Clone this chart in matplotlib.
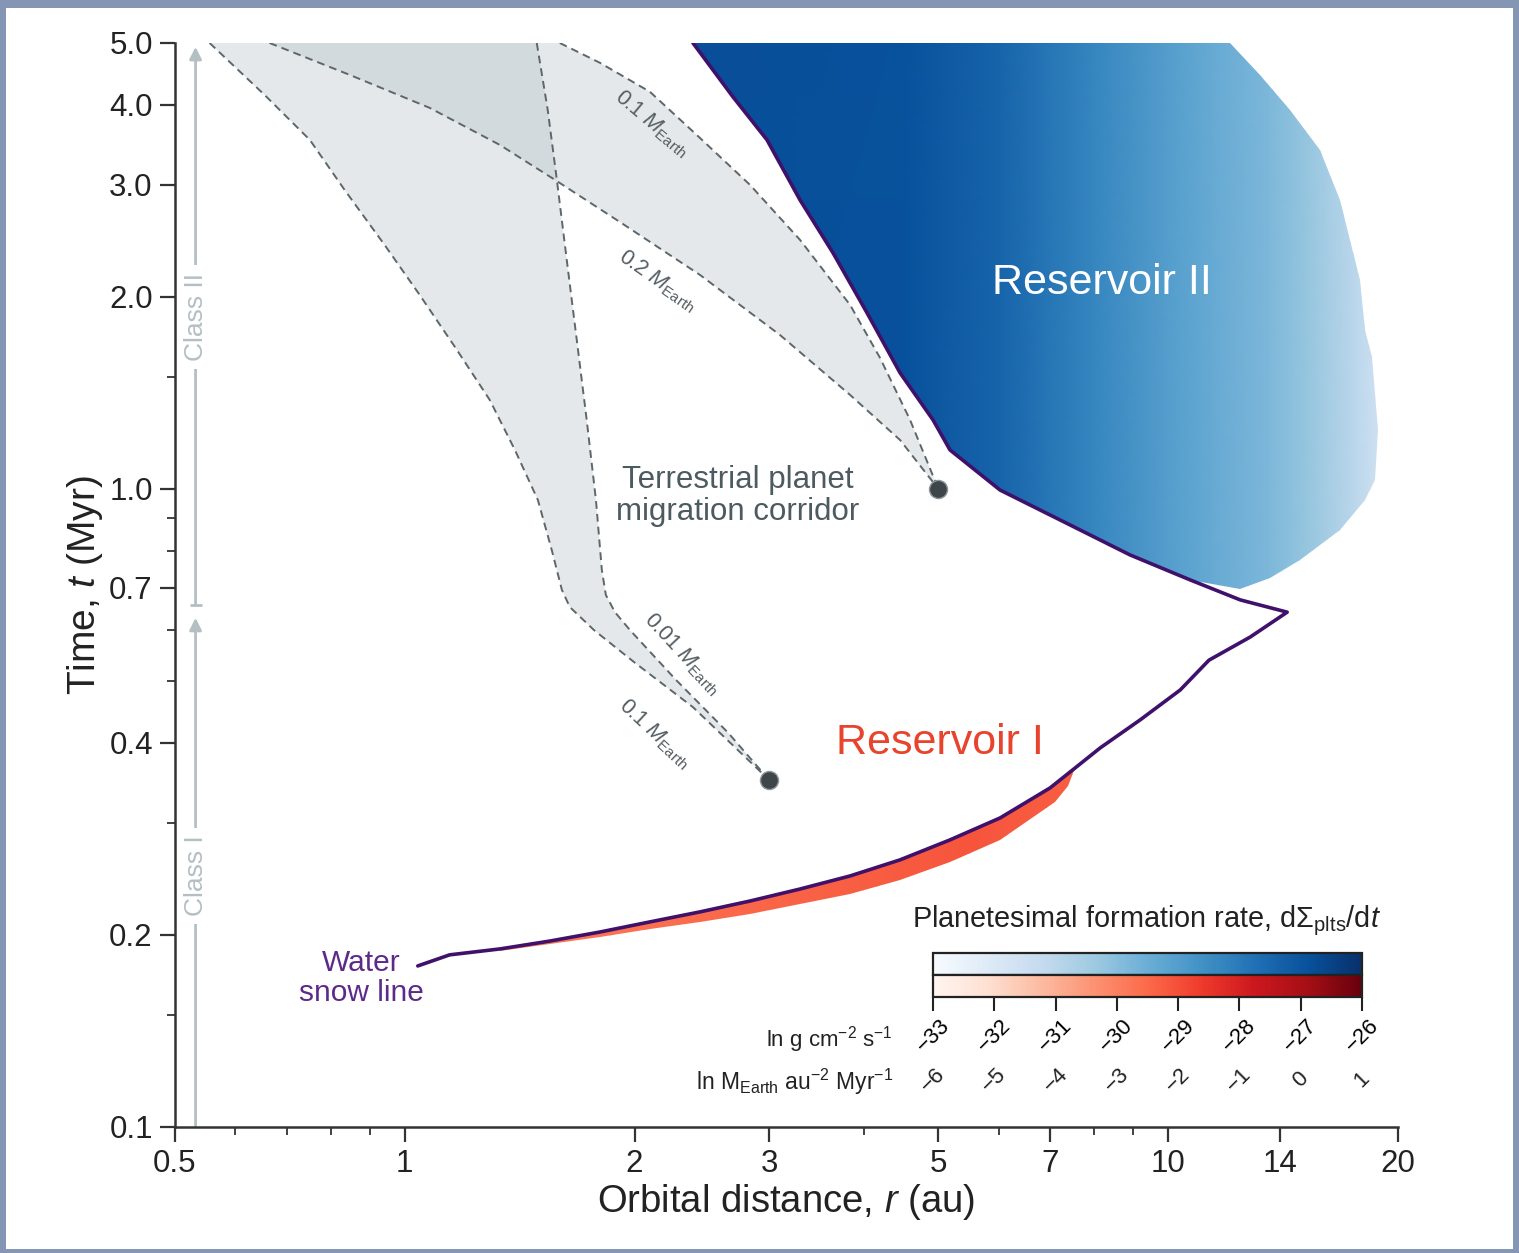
import numpy as np
import matplotlib
matplotlib.use("Agg")
import matplotlib.pyplot as plt
from matplotlib.patches import Polygon, Rectangle
from matplotlib.colors import Normalize
from matplotlib.cm import ScalarMappable
from matplotlib.ticker import NullFormatter

plt.rcParams["font.family"] = ["Liberation Sans", "DejaVu Sans"]
plt.rcParams["mathtext.fontset"] = "custom"
plt.rcParams["mathtext.rm"] = "Liberation Sans"
plt.rcParams["mathtext.it"] = "Liberation Sans:italic"
plt.rcParams["mathtext.bf"] = "Liberation Sans:bold"

# ---- data (r in au, t in Myr) ----
# water snow line, from t = 5 Myr going back in time
snow_r = [2.385, 2.691, 2.982, 3.294, 3.639, 4.032, 4.455, 4.920, 5.179, 6.023, 7.219,
          8.916, 10.69, 12.43, 14.32, 12.81, 11.31, 10.37, 9.19, 8.146, 7.553, 7.003,
          6.023, 5.179, 4.455, 3.831, 3.294, 2.833, 2.436, 2.095, 1.802, 1.549, 1.332,
          1.145, 1.040]
snow_t = [5.0, 4.116, 3.524, 2.838, 2.344, 1.888, 1.520, 1.283, 1.151, 0.996, 0.894,
          0.788, 0.720, 0.670, 0.641, 0.586, 0.539, 0.484, 0.4345, 0.3927, 0.3653, 0.3399,
          0.305, 0.2818, 0.2622, 0.2474, 0.236, 0.226, 0.2173, 0.2096, 0.2021, 0.1956, 0.1901,
          0.1861, 0.1788]

# Reservoir II outer edge (after the snow line part)
res2_edge_r = [12.43, 13.61, 14.89, 16.81, 18.13, 18.68, 18.85, 18.52, 18.13, 17.85, 16.81,
               15.82, 14.45, 13.20, 12.06]
res2_edge_t = [0.697, 0.725, 0.774, 0.862, 0.961, 1.033, 1.237, 1.61, 1.775, 2.126, 2.838,
               3.40, 3.927, 4.456, 5.0]
# colour of Reservoir II across r (ln g cm^-2 s^-1)
res2_cr = [2.3, 4.5, 6.0, 8.0, 11.0, 13.5, 15.5, 17.5, 19.0]
res2_cz = [-26.8, -26.9, -27.4, -28.3, -29.3, -29.8, -30.3, -31.0, -31.6]

# Reservoir I band below the snow line
res1_top_r = [1.332, 1.549, 1.802, 2.095, 2.436, 2.833, 3.294, 3.831, 4.455, 5.179, 6.023, 7.003, 7.553]
res1_top_t = [0.1901, 0.1956, 0.2021, 0.2096, 0.2173, 0.226, 0.236, 0.2474, 0.2622, 0.2818, 0.305, 0.3399, 0.3653]
res1_bot_r = [1.332, 1.549, 1.802, 2.095, 2.436, 2.833, 3.294, 3.831, 4.455, 5.179, 6.023, 7.110, 7.396]
res1_bot_t = [0.1887, 0.1935, 0.1985, 0.2040, 0.2098, 0.2158, 0.2235, 0.2322, 0.2440, 0.2600, 0.2815, 0.3235, 0.3420]
res1_cr = [1.3, 3.0, 5.5, 7.6]
res1_cz = [-29.9, -29.4, -29.1, -29.3]

# migration corridors: late one ends at (5 au, 1 Myr), early one at (3 au, 0.35 Myr)
c02_r = [0.665, 0.847, 1.078, 1.332, 1.573, 1.913, 2.436, 3.101, 3.831, 4.455, 5.0]
c02_t = [5.0, 4.456, 3.956, 3.461, 3.051, 2.621, 2.165, 1.743, 1.404, 1.193, 1.0]
c01u_r = [1.596, 1.802, 2.095, 2.436, 2.833, 3.294, 3.831, 4.193, 4.591, 5.0]
c01u_t = [5.0, 4.654, 4.192, 3.549, 2.996, 2.457, 1.943, 1.605, 1.283, 1.0]
c01l_r = [0.555, 0.655, 0.751, 0.834, 0.941, 1.046, 1.163, 1.292, 1.394, 1.494, 1.558,
          1.606, 1.645, 1.769, 2.002, 2.385, 3.0]
c01l_t = [5.0, 4.146, 3.524, 2.942, 2.412, 2.014, 1.670, 1.379, 1.151, 0.961, 0.802,
          0.695, 0.653, 0.601, 0.534, 0.455, 0.350]
c001_r = [1.489, 1.539, 1.582, 1.630, 1.680, 1.731, 1.780, 1.812, 1.834, 1.885, 1.972,
          2.266, 2.651, 3.0]
c001_t = [5.0, 3.927, 3.051, 2.285, 1.712, 1.283, 0.961, 0.746, 0.682, 0.641, 0.601,
          0.502, 0.415, 0.350]
dots_r = [5.0, 3.0]
dots_t = [1.0, 0.35]

xticks = [0.5, 1, 2, 3, 5, 7, 10, 14, 20]
xticklabels = ["0.5", "1", "2", "3", "5", "7", "10", "14", "20"]
xminor = [0.6, 0.7, 0.8, 0.9, 4, 6, 8, 9]
yticks = [0.1, 0.2, 0.4, 0.7, 1.0, 2.0, 3.0, 4.0, 5.0]
yticklabels = ["0.1", "0.2", "0.4", "0.7", "1.0", "2.0", "3.0", "4.0", "5.0"]
yminor = [0.15, 0.3, 0.5, 0.6, 0.8, 0.9, 1.5]

cbar_ticks = [-33, -32, -31, -30, -29, -28, -27, -26]
cbar_labels_cgs = ["\u221233", "\u221232", "\u221231", "\u221230", "\u221229", "\u221228", "\u221227", "\u221226"]
cbar_labels_astro = ["\u22126", "\u22125", "\u22124", "\u22123", "\u22122", "\u22121", "0", "1"]

norm = Normalize(vmin=-33, vmax=-26)
GRAY_TXT = "#555e62"
CLASS_C = "#b4bfc3"
SNOW_C = "#40116b"

fig = plt.figure(figsize=(15.19, 12.53), dpi=100)
fig.patch.set_facecolor("#8595b4")
fig.patches.append(Rectangle((6 / 1519, 4 / 1253), 1507 / 1519, 1241 / 1253,
                             transform=fig.transFigure, facecolor="white",
                             edgecolor="none", zorder=-1))

ax = fig.add_axes([0.1152, 0.1006, 0.8051, 0.8651])
ax.patch.set_alpha(0)
ax.set_xscale("log")
ax.set_yscale("log")

# ---- corridors ----
up_poly = list(zip(c02_r, c02_t)) + list(zip(c01u_r[::-1], c01u_t[::-1]))
lo_poly = list(zip(c01l_r, c01l_t)) + list(zip(c001_r[::-1], c001_t[::-1]))
for poly in (up_poly, lo_poly):
    ax.add_patch(Polygon(poly, closed=True, facecolor="#b8c4c8", alpha=0.38,
                         edgecolor="none", zorder=1))
for rr, tt in ((c02_r, c02_t), (c01u_r, c01u_t), (c01l_r, c01l_t), (c001_r, c001_t)):
    ax.plot(rr, tt, ls=(0, (4, 2.6)), color="#5d676b", lw=1.4, zorder=2)
ax.plot(dots_r, dots_t, "o", ms=13, color="#3f4649", mec="#8e989b", mew=1.0, zorder=6)

# ---- Reservoir II (blue) ----
res2_poly = list(zip(snow_r[:13], snow_t[:13])) + list(zip(res2_edge_r, res2_edge_t))
clip2 = Polygon(res2_poly, closed=True, transform=ax.transData, facecolor="none", edgecolor="none")
ax.add_patch(clip2)
R2, T2 = np.meshgrid(res2_cr, [0.3, 6.0])
mesh2 = ax.pcolormesh(R2, T2, np.vstack([res2_cz, res2_cz]), shading="gouraud",
                      cmap="Blues", norm=norm, zorder=3)
mesh2.set_clip_path(clip2)

# ---- Reservoir I (red) ----
res1_poly = list(zip(res1_top_r, res1_top_t)) + list(zip(res1_bot_r[::-1], res1_bot_t[::-1]))
clip1 = Polygon(res1_poly, closed=True, transform=ax.transData, facecolor="none", edgecolor="none")
ax.add_patch(clip1)
R1, T1 = np.meshgrid(res1_cr, [0.1, 0.5])
mesh1 = ax.pcolormesh(R1, T1, np.vstack([res1_cz, res1_cz]), shading="gouraud",
                      cmap="Reds", norm=norm, zorder=3)
mesh1.set_clip_path(clip1)

# ---- snow line ----
ax.plot(snow_r, snow_t, color=SNOW_C, lw=2.6, zorder=5, solid_joinstyle="round",
        solid_capstyle="round")

# ---- Class I / II arrows (kept under the spines) ----
xc = 0.532
ax.annotate("", xy=(xc, 0.628), xytext=(xc, 0.1),
            arrowprops=dict(arrowstyle="-|>", color=CLASS_C, lw=2, mutation_scale=18,
                            shrinkA=0, shrinkB=0), zorder=2.2)
ax.annotate("", xy=(xc, 4.93), xytext=(xc, 0.658),
            arrowprops=dict(arrowstyle="-|>", color=CLASS_C, lw=2, mutation_scale=18,
                            shrinkA=0, shrinkB=0), zorder=2.2)
ax.plot([xc], [0.658], marker="_", ms=9, mew=2, color=CLASS_C, zorder=2.2)
for lab, ty in (("Class I", 0.2474), ("Class II", 1.86)):
    ax.text(xc, ty, lab, rotation=90, ha="center", va="center", fontsize=19, color=CLASS_C,
            bbox=dict(boxstyle="square,pad=0.3", fc="white", ec="none"), zorder=2.3)

# ---- text labels ----
ax.text(8.196, 2.103, "Reservoir II", color="white", fontsize=31, ha="center", va="center", zorder=7)
ax.text(5.025, 0.3998, "Reservoir I", color="#e8432c", fontsize=31, ha="center", va="center", zorder=7)
ax.text(2.732, 0.975, "Terrestrial planet\nmigration corridor", color="#4d5b60", fontsize=22.5,
        ha="center", va="center", linespacing=1.12, zorder=7)
ax.text(0.878, 0.1712, "Water\nsnow line", color="#5c2a88", fontsize=21.5, ha="center",
        va="center", linespacing=1.08, zorder=7)
for lab, lr, lt, rot, off in (("0.1 $M_{\\rm Earth}$", 2.172, 3.898, -40, (-7, -8)),
                              ("0.2 $M_{\\rm Earth}$", 2.172, 2.165, -35, (-3, -4)),
                              ("0.01 $M_{\\rm Earth}$", 2.252, 0.5375, -47, (6, 5)),
                              ("0.1 $M_{\\rm Earth}$", 2.172, 0.4236, -43, (-5, -5))):
    ax.annotate(lab, xy=(lr, lt), xytext=off, textcoords="offset points", rotation=rot,
                rotation_mode="anchor", ha="center", va="center", fontsize=15.5,
                color=GRAY_TXT, zorder=7)

# ---- axes ----
ax.set_xlim(0.5, 20)
ax.set_ylim(0.1, 5.0)
for s in ("top", "right"):
    ax.spines[s].set_visible(False)
for s in ("left", "bottom"):
    ax.spines[s].set_linewidth(1.8)
    ax.spines[s].set_color("#333333")
ax.set_xticks(xticks)
ax.set_xticklabels(xticklabels)
ax.set_xticks(xminor, minor=True)
ax.set_yticks(yticks)
ax.set_yticklabels(yticklabels)
ax.set_yticks(yminor, minor=True)
ax.xaxis.set_minor_formatter(NullFormatter())
ax.yaxis.set_minor_formatter(NullFormatter())
ax.tick_params(which="major", length=11, width=1.6, color="#333333", labelsize=22.5,
               labelcolor="#222222", pad=5)
ax.tick_params(which="minor", length=6, width=1.3, color="#333333")
ax.set_xlabel("Orbital distance, $r$ (au)", fontsize=27.5, color="#222222", labelpad=2)
ax.set_ylabel("Time, $t$ (Myr)", fontsize=28, color="#222222", labelpad=3)

# ---- colour bars ----
cb_left, cb_w, cb_h = 0.6142, 0.2824, 0.01756
cax_b = fig.add_axes([cb_left, 0.2219, cb_w, cb_h])
cax_r = fig.add_axes([cb_left, 0.2043, cb_w, cb_h])
cb_b = fig.colorbar(ScalarMappable(norm=norm, cmap="Blues"), cax=cax_b, orientation="horizontal")
cb_b.set_ticks([])
cb_r = fig.colorbar(ScalarMappable(norm=norm, cmap="Reds"), cax=cax_r, orientation="horizontal")
cb_r.set_ticks(cbar_ticks)
cb_r.set_ticklabels(cbar_labels_cgs)
for cb in (cb_b, cb_r):
    cb.outline.set_linewidth(1.6)
    cb.outline.set_edgecolor("#222222")
cax_r.tick_params(length=10, width=1.5, labelsize=16, pad=3, color="#222222")
plt.setp(cax_r.get_xticklabels(), rotation=45, ha="center", va="top")
for v, lab in zip(cbar_ticks, cbar_labels_astro):
    cax_r.text(v, -3.77, lab, transform=cax_r.get_xaxis_transform(), rotation=45,
               ha="center", va="center", fontsize=16, color="#222222")
fig.text(0.5879, 0.170, "ln g cm$^{-2}$ s$^{-1}$", ha="right", va="center", fontsize=16,
         color="#222222")
fig.text(0.5879, 0.1365, "ln M$_{\\rm Earth}$ au$^{-2}$ Myr$^{-1}$", ha="right", va="center",
         fontsize=16.5, color="#222222")
fig.text(0.7551, 0.2655, "Planetesimal formation rate, d\u03a3$_{\\rm plts}$/d$t$",
         ha="center", va="center", fontsize=20.8, color="#222222")

fig.savefig("out.png", dpi=100)
